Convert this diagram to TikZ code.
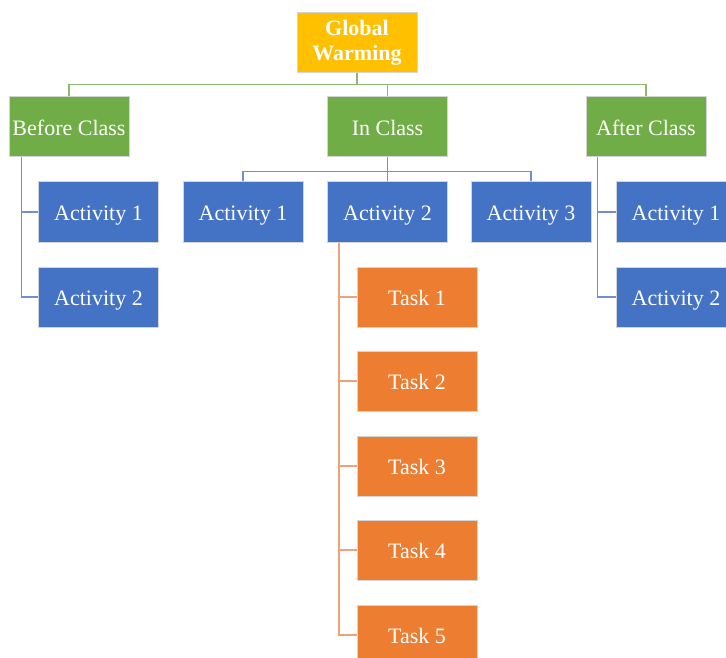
\documentclass[tikz,border=0pt]{standalone}
\usepackage{fontspec}
\setmainfont{Liberation Serif}
\definecolor{gold}{HTML}{FFC000}
\definecolor{grn}{HTML}{70AD47}
\definecolor{blu}{HTML}{4472C4}
\definecolor{org}{HTML}{ED7D31}
\definecolor{glc}{HTML}{8FB872}
\definecolor{blc}{HTML}{6E8FD0}
\definecolor{olc}{HTML}{EFA27A}
\definecolor{bordc}{HTML}{D4D4D4}
\tikzset{
  box/.style={draw=bordc, line width=1pt, text=white, minimum width=120pt, minimum height=60pt,
    inner sep=0pt, font=\fontsize{22}{24}\selectfont, align=center, text height=17pt, text depth=0.5pt},
  gbox/.style={box, fill=grn},
  bbox/.style={box, fill=blu},
  obox/.style={box, fill=org},
  topbox/.style={draw=bordc, line width=1pt, text=white, minimum width=120pt, minimum height=60pt,
    inner sep=0pt, align=center, fill=gold, font=\fontsize{22}{25}\selectfont\bfseries},
  gline/.style={draw=glc, line width=1.5pt},
  bline/.style={draw=blc, line width=1.5pt},
  oline/.style={draw=olc, line width=1.5pt}
}
\begin{document}
\begin{tikzpicture}[x=1pt,y=-1pt]
\useasboundingbox (0,0) rectangle (726,658);
\clip (0,0) rectangle (726,658);
% top
\node[topbox] (gw) at (357,43) {Global\\Warming};
\node[gbox] (bc) at (69,127) {Before Class};
\node[gbox] (ic) at (387.5,127) {In Class};
\node[gbox] (ac) at (646,127) {After Class};
% before class children
\node[bbox] (b1) at (98.5,212) {Activity 1};
\node[bbox] (b2) at (98.5,297) {Activity 2};
% in class children
\node[bbox] (i1) at (243,212) {Activity 1};
\node[bbox] (i2) at (387.5,212) {Activity 2};
\node[bbox] (i3) at (531,212) {Activity 3};
% after class children
\node[bbox] (a1) at (676,212) {Activity 1};
\node[bbox] (a2) at (676,297) {Activity 2};
% tasks
\node[obox] (t1) at (417,297) {Task 1};
\node[obox] (t2) at (417,381) {Task 2};
\node[obox] (t3) at (417,466) {Task 3};
\node[obox] (t4) at (417,550) {Task 4};
\node[obox] (t5) at (417,635) {Task 5};
% connectors
\path[gline] (gw.south) -- ++(0,11) -| (bc.north);
\path[gline] (gw.south) -- ++(0,11) -| (ic.north);
\path[gline] (gw.south) -- ++(0,11) -| (ac.north);
\path[bline] ([xshift=13pt]bc.south west) |- (b1.west);
\path[bline] ([xshift=13pt]bc.south west) |- (b2.west);
\path[bline] (ic.south) -- ++(0,14) -| (i1.north);
\path[bline] (ic.south) -- ++(0,14) -| (i2.north);
\path[bline] (ic.south) -- ++(0,14) -| (i3.north);
\path[bline] ([xshift=12pt]ac.south west) |- (a1.west);
\path[bline] ([xshift=12pt]ac.south west) |- (a2.west);
\path[oline] ([xshift=12pt]i2.south west) |- (t1.west);
\path[oline] ([xshift=12pt]i2.south west) |- (t2.west);
\path[oline] ([xshift=12pt]i2.south west) |- (t3.west);
\path[oline] ([xshift=12pt]i2.south west) |- (t4.west);
\path[oline] ([xshift=12pt]i2.south west) |- (t5.west);
\end{tikzpicture}
\end{document}
